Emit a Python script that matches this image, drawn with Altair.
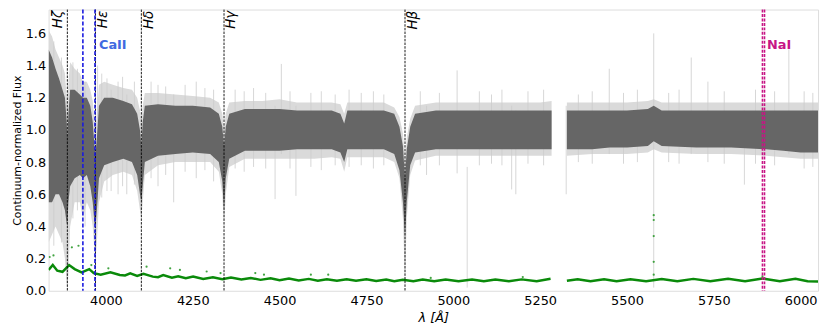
import altair as alt
import pandas as pd

# ---------------- spectrum envelope ----------------
band_seg = [1]*62 + [2]*13
band_lam = [3835, 3845, 3855, 3865, 3875, 3882, 3887, 3889, 3892, 3897,
            3910, 3925, 3934, 3945, 3955, 3962, 3967, 3970, 3974, 3980,
            3995, 4020, 4050, 4075, 4090, 4098, 4102, 4106, 4112, 4150,
            4200, 4250, 4300, 4325, 4335, 4340, 4345, 4355, 4400, 4450,
            4500, 4550, 4600, 4650, 4675, 4686, 4695, 4750, 4800, 4830,
            4845, 4855, 4861, 4866, 4876, 4890, 4950, 5000, 5100, 5200,
            5250, 5283,
            5327, 5400, 5450, 5500, 5560, 5577, 5600, 5700, 5800, 5900,
            5950, 6000, 6050]
dark_lo = [0.55, 0.55, 0.60, 0.60, 0.55, 0.50, 0.42, 0.40, 0.55, 0.65,
           0.70, 0.72, 0.70, 0.72, 0.65, 0.55, 0.42, 0.40, 0.50, 0.70,
           0.78, 0.80, 0.82, 0.80, 0.72, 0.60, 0.55, 0.65, 0.80, 0.84,
           0.85, 0.86, 0.85, 0.80, 0.68, 0.50, 0.70, 0.82, 0.87, 0.87,
           0.87, 0.88, 0.88, 0.88, 0.86, 0.80, 0.88, 0.88, 0.88, 0.85,
           0.75, 0.55, 0.33, 0.55, 0.78, 0.86, 0.88, 0.88, 0.88, 0.88,
           0.88, 0.88,
           0.88, 0.88, 0.89, 0.89, 0.90, 0.93, 0.90, 0.89, 0.89, 0.88,
           0.87, 0.86, 0.86]
dark_hi = [1.50, 1.45, 1.38, 1.32, 1.25, 1.20, 1.05, 0.95, 1.10, 1.25,
           1.25, 1.22, 1.20, 1.20, 1.15, 1.05, 0.90, 0.85, 0.95, 1.15,
           1.20, 1.20, 1.18, 1.16, 1.10, 1.00, 0.90, 1.05, 1.15, 1.16,
           1.15, 1.15, 1.14, 1.10, 1.02, 0.90, 1.02, 1.10, 1.13, 1.13,
           1.13, 1.12, 1.12, 1.12, 1.10, 1.04, 1.12, 1.12, 1.12, 1.10,
           1.02, 0.90, 0.70, 0.88, 1.02, 1.10, 1.12, 1.12, 1.12, 1.12,
           1.12, 1.12,
           1.12, 1.12, 1.12, 1.12, 1.13, 1.15, 1.12, 1.12, 1.12, 1.12,
           1.12, 1.12, 1.12]
light_lo = [0.30, 0.35, 0.40, 0.35, 0.30, 0.20, 0.05, 0.00, 0.10, 0.40,
            0.55, 0.55, 0.45, 0.55, 0.50, 0.40, 0.25, 0.20, 0.30, 0.55,
            0.68, 0.72, 0.74, 0.72, 0.62, 0.50, 0.45, 0.55, 0.72, 0.78,
            0.80, 0.80, 0.80, 0.74, 0.60, 0.40, 0.60, 0.77, 0.82, 0.82,
            0.82, 0.82, 0.82, 0.83, 0.82, 0.74, 0.83, 0.83, 0.83, 0.80,
            0.70, 0.45, 0.05, 0.45, 0.72, 0.81, 0.84, 0.84, 0.84, 0.84,
            0.84, 0.84,
            0.84, 0.85, 0.85, 0.85, 0.86, 0.88, 0.86, 0.85, 0.85, 0.84,
            0.83, 0.82, 0.82]
light_hi = [1.62, 1.58, 1.50, 1.45, 1.40, 1.35, 1.20, 1.10, 1.30, 1.42,
            1.38, 1.35, 1.30, 1.30, 1.25, 1.18, 1.05, 1.00, 1.10, 1.28,
            1.30, 1.28, 1.26, 1.25, 1.20, 1.12, 1.05, 1.15, 1.23, 1.23,
            1.22, 1.21, 1.20, 1.17, 1.10, 1.00, 1.10, 1.17, 1.18, 1.18,
            1.19, 1.17, 1.17, 1.17, 1.16, 1.10, 1.17, 1.17, 1.17, 1.14,
            1.08, 0.98, 0.80, 0.95, 1.07, 1.15, 1.17, 1.17, 1.17, 1.17,
            1.17, 1.18,
            1.17, 1.17, 1.17, 1.17, 1.18, 1.19, 1.17, 1.17, 1.17, 1.17,
            1.17, 1.17, 1.17]

# individual outlying pixels (light grey spikes)
spike_lam = [3850, 3872, 3905, 3918, 3940, 3976, 3988, 4003, 4015, 4035,
             4048, 4060, 4082, 4130, 4150, 4172, 4195, 4228, 4260, 4285,
             4310, 4372, 4398, 4425, 4460, 4487, 4505, 4530, 4547, 4590,
             4620, 4660, 4700, 4735, 4770, 4800, 4905, 4923, 4960, 5011,
             5040, 5075, 5110, 5140, 5168, 5180, 5215, 5260, 5325, 5360,
             5400, 5449, 5490, 5530, 5577, 5620, 5650, 5685, 5733, 5780,
             5838, 5870, 5925, 5966, 6010, 6035]
spike_lo = [0.28, 0.30, 0.45, 0.50, 0.40, 0.55, 0.58, 0.62, 0.62, 0.60,
            0.65, 0.60, 0.66, 0.70, 0.65, 0.72, 0.55, 0.74, 0.70, 0.75,
            0.68, 0.76, 0.74, 0.77, 0.76, 0.57, 0.85, 0.76, 0.59, 0.77,
            0.75, 0.78, 0.77, 0.78, 0.76, 0.78, 0.78, 0.72, 0.78, 0.73,
            0.02, 0.78, 0.79, 0.78, 0.63, 0.60, 0.79, 0.78, 0.60, 0.80,
            0.79, 0.85, 0.79, 0.80, 0.02, 0.80, 0.79, 0.85, 0.80, 0.79,
            0.66, 0.79, 0.78, 0.85, 0.76, 0.77]
spike_hi = [1.55, 1.45, 1.42, 1.38, 1.30, 1.40, 1.35, 1.32, 1.25, 1.30,
            1.33, 1.22, 1.30, 1.30, 1.28, 1.27, 1.22, 1.28, 1.30, 1.26,
            1.25, 1.25, 1.24, 1.26, 1.23, 1.15, 1.41, 1.24, 1.15, 1.23,
            1.24, 1.22, 1.25, 1.23, 1.24, 1.22, 1.24, 1.15, 1.23, 1.37,
            0.77, 1.24, 1.22, 1.25, 1.15, 1.12, 1.24, 1.25, 1.15, 1.22,
            1.24, 1.38, 1.23, 1.25, 1.60, 1.23, 1.25, 1.45, 1.30, 1.24,
            1.12, 1.25, 1.24, 1.50, 1.24, 1.23]

# ---------------- error spectrum ----------------
err_seg = [1]*57 + [2]*18
err_lam = [3835, 3847, 3860, 3875, 3894, 3910, 3930, 3952, 3965, 3985,
           4013, 4040, 4055, 4070, 4090, 4108, 4135, 4150, 4165, 4190,
           4208, 4230, 4251, 4280, 4308, 4335, 4360, 4390, 4417, 4445,
           4474, 4500, 4527, 4555, 4584, 4610, 4636, 4665, 4693, 4720,
           4750, 4778, 4807, 4830, 4855, 4885, 4912, 4945, 4978, 5015,
           5054, 5088, 5121, 5160, 5197, 5240, 5280,
           5327, 5358, 5395, 5434, 5470, 5510, 5555, 5600, 5645, 5691,
           5740, 5791, 5840, 5890, 5940, 5985, 6020, 6050]
err_val = [0.130, 0.160, 0.125, 0.118, 0.160, 0.135, 0.115, 0.135, 0.110, 0.100,
           0.115, 0.098, 0.095, 0.108, 0.092, 0.105, 0.088, 0.085, 0.098, 0.082,
           0.090, 0.078, 0.088, 0.074, 0.084, 0.072, 0.082, 0.070, 0.080, 0.068,
           0.078, 0.066, 0.076, 0.064, 0.074, 0.063, 0.072, 0.062, 0.072, 0.062,
           0.071, 0.061, 0.070, 0.060, 0.069, 0.060, 0.070, 0.059, 0.070, 0.059,
           0.070, 0.059, 0.070, 0.059, 0.071, 0.060, 0.075,
           0.062, 0.072, 0.059, 0.072, 0.059, 0.072, 0.059, 0.073, 0.059, 0.074,
           0.059, 0.075, 0.060, 0.076, 0.060, 0.075, 0.060, 0.058]
dot_lam = [3838, 3849, 3902, 3921, 3958, 4007, 4117, 4185, 4213, 4290,
           4330, 4430, 4455, 4590, 4640, 4935, 5200, 5577, 5577, 5577,
           5577, 5577, 5890]
dot_val = [0.21, 0.22, 0.27, 0.28, 0.16, 0.14, 0.15, 0.14, 0.13, 0.12,
           0.11, 0.11, 0.10, 0.10, 0.10, 0.08, 0.085, 0.47, 0.44, 0.34,
           0.18, 0.10, 0.09]

# ---------------- line identifications ----------------
balmer_lam = [3889, 3970, 4102, 4340, 4861]
balmer_lab = ["Hζ", "Hε", "Hδ", "Hγ", "Hβ"]
balmer_lab_lam = [3862, 3992, 4123, 4360, 4883]
ca_lam = [3933.7, 3968.5]
na_lam = [5890.0, 5895.9]
ion_lab = ["CaII", "NaI"]
ion_lab_lam = [3980, 5903]
ion_lab_y = [1.53, 1.53]
ion_lab_col = ["#4169e1", "#c71585"]

x_ticks = [4000, 4250, 4500, 4750, 5000, 5250, 5500, 5750, 6000]
y_ticks = [0.0, 0.2, 0.4, 0.6, 0.8, 1.0, 1.2, 1.4, 1.6]

band = pd.DataFrame({"lam": band_lam, "seg": band_seg, "dlo": dark_lo,
                     "dhi": dark_hi, "llo": light_lo, "lhi": light_hi})
spikes = pd.DataFrame({"lam": spike_lam, "lo": spike_lo, "hi": spike_hi})
err = pd.DataFrame({"lam": err_lam, "seg": err_seg, "v": err_val})
dots = pd.DataFrame({"lam": dot_lam, "v": dot_val})
balmer = pd.DataFrame({"lam": balmer_lam})
balmer_txt = pd.DataFrame({"lam": balmer_lab_lam, "t": balmer_lab, "y": [1.74]*5})
ca = pd.DataFrame({"lam": ca_lam})
na = pd.DataFrame({"lam": na_lam})
ion_txt = pd.DataFrame({"lam": ion_lab_lam, "t": ion_lab, "y": ion_lab_y, "c": ion_lab_col})

xs = alt.Scale(domain=[3835, 6050], nice=False, zero=False)
ys = alt.Scale(domain=[0, 1.748], nice=False)

x_axis = alt.Axis(
    values=x_ticks, title="λ [Å]", format="d", labelFontSize=13, titleFontSize=13,
    titleFontStyle="italic", titleFontWeight="normal", ticks=False, domain=False,
    grid=False, labelPadding=4, titlePadding=4, labelColor="black", titleColor="black",
    labelFlush=False)
y_axis = alt.Axis(
    values=y_ticks, format=".1f", title="Continuum-normalized Flux", labelFontSize=13,
    titleFontSize=11, titleFontWeight="normal", ticks=False, domain=False, grid=False,
    labelPadding=3, titlePadding=3, labelColor="black", titleColor="black")


def X():
    return alt.X("lam:Q", scale=xs, axis=x_axis)


def Y(field):
    return alt.Y(field, scale=ys, axis=y_axis)


light = alt.Chart(band).mark_area(color="#dadada", clip=True).encode(
    x=X(), y=Y("llo:Q"), y2="lhi:Q", detail="seg:N")
spk = alt.Chart(spikes).mark_rule(color="#cccccc", strokeWidth=0.8, clip=True).encode(
    x=X(), y=Y("lo:Q"), y2="hi:Q")
dark = alt.Chart(band).mark_area(color="#666666", clip=True).encode(
    x=X(), y=Y("dlo:Q"), y2="dhi:Q", detail="seg:N")
eline = alt.Chart(err).mark_line(color="#0a8a0a", strokeWidth=2.5, clip=True).encode(
    x=X(), y=Y("v:Q"), detail="seg:N")
edots = alt.Chart(dots).mark_point(color="#2e9a2e", filled=True, size=5, opacity=0.9,
                                   clip=True).encode(x=X(), y=Y("v:Q"))
bl = alt.Chart(balmer).mark_rule(color="black", strokeWidth=0.9, strokeDash=[2.5, 1.2]).encode(x=X())
cal = alt.Chart(ca).mark_rule(color="#1a1ae0", strokeWidth=1.6, strokeDash=[4, 2]).encode(x=X())
nal = alt.Chart(na).mark_rule(color="#c71585", strokeWidth=1.6, strokeDash=[3, 1.5]).encode(x=X())
btxt = alt.Chart(balmer_txt).mark_text(angle=270, align="right", baseline="middle",
                                       fontStyle="italic", fontSize=13.5, color="black").encode(
    x=X(), y=Y("y:Q"), text="t:N")
itxt = alt.Chart(ion_txt).mark_text(align="left", baseline="middle", fontWeight="bold",
                                    fontSize=13).encode(
    x=X(), y=Y("y:Q"), text="t:N", color=alt.Color("c:N", scale=None))

chart = alt.layer(light, spk, dark, eline, edots, bl, cal, nal, btxt, itxt).properties(
    width=777, height=284,
    autosize=alt.AutoSizeParams(type="none"),
    padding={"left": 41, "top": 0, "right": 4, "bottom": 37},
    background="white",
).configure_view(stroke="#aaaaaa", strokeWidth=1.5).configure(
    font="DejaVu Sans")

chart.save("out.html", embed_options={"renderer": "svg", "actions": False})
